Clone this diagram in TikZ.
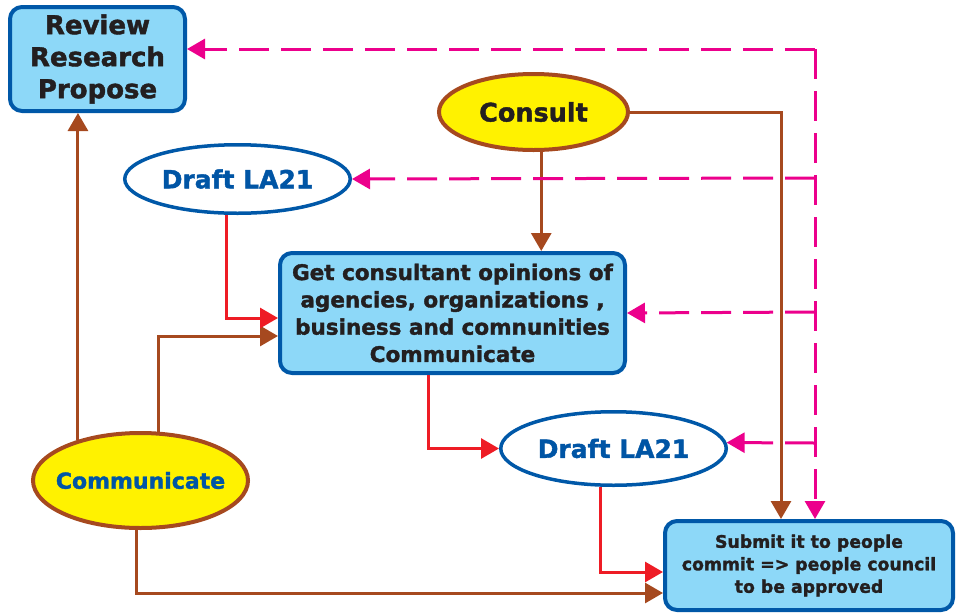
\documentclass[tikz,border=0pt]{standalone}
\usepackage{fontspec}
\setmainfont{DejaVu Sans}[BoldFeatures={FakeBold=1.6}]
\usetikzlibrary{arrows.meta,shapes.geometric,calc}
\definecolor{boxfill}{HTML}{8DD8F8}
\definecolor{bblue}{HTML}{0058A8}
\definecolor{tblue}{HTML}{0055A5}
\definecolor{yel}{HTML}{FFF200}
\definecolor{brn}{HTML}{A6491F}
\definecolor{rd}{HTML}{EE1C25}
\definecolor{mag}{HTML}{EC008C}
\definecolor{txt}{HTML}{231F20}
\begin{document}
\begin{tikzpicture}[x=1pt,y=-1pt,
  box/.style={draw=bblue, fill=boxfill, line width=4pt, rounded corners=12pt,
    inner sep=0pt, align=center, text=txt},
  ell/.style={ellipse, inner sep=0pt, line width=4pt},
  yell/.style={ell, draw=brn, fill=yel},
  bell/.style={ell, draw=bblue, fill=white, line width=3.5pt, text=tblue},
  tip/.style={-{Triangle[length=18pt,width=20pt]}},
  brnline/.style={draw=brn, line width=3pt, tip},
  redline/.style={draw=rd, line width=3pt, tip},
  magline/.style={draw=mag, line width=3pt, dash pattern=on 30pt off 12pt, tip}
]
\useasboundingbox (0,0) rectangle (956,614);

\node[box, minimum width=175pt, minimum height=104pt,
  font=\fontsize{26}{32}\selectfont\bfseries] (review) at (97.5,59)
  {Review\\Research\\Propose};
\node[yell, minimum width=189pt, minimum height=76pt,
  font=\fontsize{25.5}{30}\selectfont\bfseries, text=txt] (consult) at (533.5,112)
  {\makebox[0pt]{Consult}};
\node[bell, minimum width=225.5pt, minimum height=68.5pt,
  font=\fontsize{25}{30}\selectfont\bfseries] (drafttop) at (237.5,179)
  {\makebox[0pt]{Draft LA21}};
\node[box, minimum width=345pt, minimum height=120pt,
  font=\fontsize{21.5}{27.3}\selectfont\bfseries] (central) at (452.5,313)
  {Get consultant opinions of\\agencies, organizations ,\\business and comnunities\\Communicate};
\node[bell, minimum width=225.5pt, minimum height=73.5pt,
  font=\fontsize{25}{30}\selectfont\bfseries] (draftbot) at (613.5,448.5)
  {\makebox[0pt]{Draft LA21}};
\node[yell, minimum width=215pt, minimum height=95pt,
  font=\fontsize{22}{26}\selectfont\bfseries, text=tblue] (comm) at (140.5,480.5)
  {\makebox[0pt]{Communicate}};
\node[box, minimum width=288pt, minimum height=89pt,
  font=\fontsize{17.3}{22.5}\selectfont\bfseries] (submit) at (809,565.5)
  {Submit it to people\\commit => people council\\to be approved};

% brown connectors
\draw[brnline] (comm.147) -- (comm.147 |- review.south);
\draw[brnline] (comm.70) |- ($(central.west)+(0,23)$);
\draw[brnline] (comm.265) |- ($(submit.west)+(0,27.5)$);
\draw[brnline] (consult.281) -- (consult.281 |- central.north);
\draw[brnline] (consult.east) -| ($(submit.north)+(-28,0)$);

% red connectors
\draw[redline] (drafttop.253) |- ($(central.west)+(0,5)$);
\draw[redline] ($(central.south)+(-24.5,0)$) |- (draftbot.west);
\draw[redline] (draftbot.251) |- ($(submit.west)+(0,6.5)$);

% magenta dashed feedback
\coordinate (tc) at (815,49);
\coordinate (b1) at (815,178);
\coordinate (b2) at (815,312);
\coordinate (b3) at (815,443);
\draw[magline] (tc) -- ($(review.east)+(0,-10)$);
\draw[magline] (tc) -- ($(submit.north)+(6,0)$);
\draw[magline] (b1) -- (drafttop.east);
\draw[magline] (b2) -- (central.east);
\draw[magline] (b3) -- (draftbot.3);
\end{tikzpicture}
\end{document}
